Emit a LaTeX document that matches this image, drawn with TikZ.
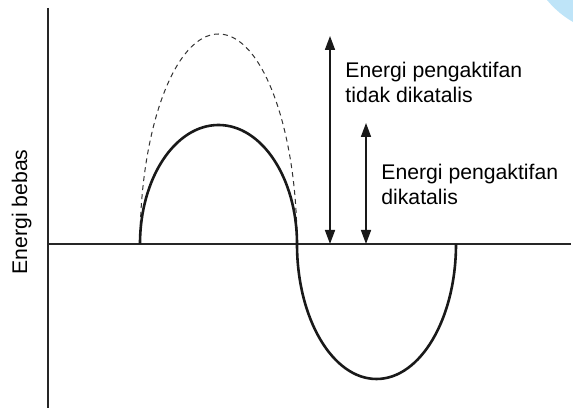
\documentclass[tikz,border=0pt]{standalone}
\usepackage{fontspec}
\setmainfont{Liberation Sans}
\usetikzlibrary{arrows.meta}
\definecolor{cornerblue}{RGB}{190,228,248}

\begin{document}
\begin{tikzpicture}[
    x=0.5pt, y=0.5pt,
    axis/.style={line width=1pt, black!85},
    curve/.style={line width=1.3pt, black!90},
    guess/.style={line width=0.5pt, dash pattern=on 2.5pt off 2pt, black!80},
    barrow/.style={{Triangle[length=7pt,width=5pt]}-{Triangle[length=7pt,width=5pt]}, line width=0.8pt, black!90},
    lbl/.style={font=\fontsize{10.6}{12.5}\selectfont, align=left, inner sep=0pt}
]
\useasboundingbox (0,0) rectangle (573,410);
\begin{scope}
\clip (0,0) rectangle (573,410);
\fill[cornerblue] (620,470) circle[radius=94.5];
\end{scope}

% axes
\coordinate (ytop) at (48,402);
\coordinate (ybot) at (48,2);
\coordinate (o) at (48,166);
\coordinate (xend) at (571,166);
\draw[axis] (ytop) -- (ybot);
\draw[axis] (o) -- (xend);

% free energy curves
\draw[guess] (140,166) arc[start angle=180, end angle=0, x radius=78.5, y radius=210];
\draw[curve] (140,166) arc[start angle=180, end angle=0, x radius=78.5, y radius=119];
\draw[curve] (297,166) arc[start angle=180, end angle=360, x radius=79.5, y radius=135];

% activation energies
\coordinate (a1b) at (330,166);
\coordinate (a1t) at (330,374);
\coordinate (a2b) at (366,166);
\coordinate (a2t) at (366,287);
\draw[barrow] (a1b) -- (a1t);
\draw[barrow] (a2b) -- (a2t);

\node[lbl, anchor=base west] (lnc) at (345,307) {Energi pengaktifan\\tidak dikatalis};
\node[lbl, anchor=base west] (lc) at (381,205) {Energi pengaktifan\\dikatalis};
\node[lbl, rotate=90, anchor=base] (ylab) at (27,198) {Energi bebas};

\end{tikzpicture}
\end{document}
